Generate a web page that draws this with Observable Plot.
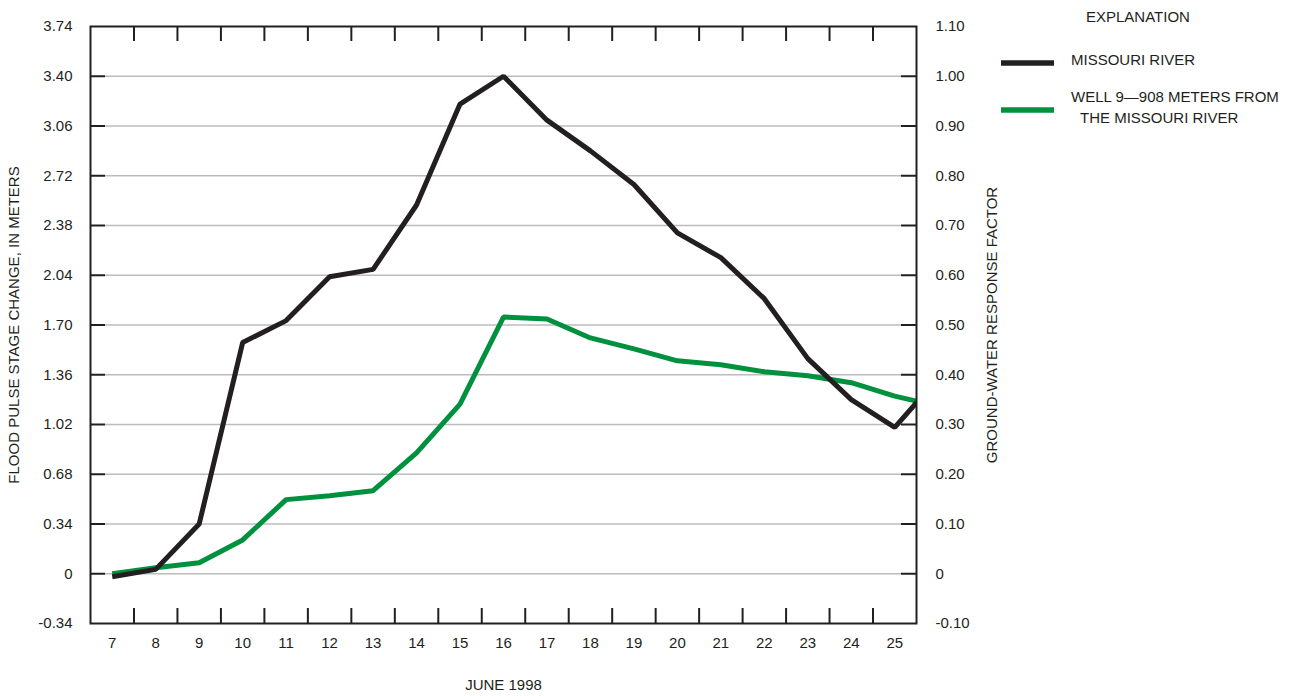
<!DOCTYPE html>
<html>
<head>
<meta charset="utf-8">
<script src="https://cdn.jsdelivr.net/npm/d3@7"></script>
<script src="https://cdn.jsdelivr.net/npm/@observablehq/plot@0.6"></script>
<style>
  body { margin: 0; background: #fff; }
  #wrap { position: relative; width: 1302px; height: 696px; font-family: "Liberation Sans", Arial, sans-serif; }
  #legend { position: absolute; left: 0; top: 0; }
</style>
</head>
<body>
<div id="wrap"></div>
<script>
// ---- data ----
const days = [7, 8, 9, 10, 11, 12, 13, 14, 15, 16, 17, 18, 19, 20, 21, 22, 23, 24, 25, 25.5];
// Missouri River flood pulse stage change, meters
const missouri = [-0.02, 0.03, 0.34, 1.58, 1.73, 2.03, 2.08, 2.52, 3.21, 3.40, 3.10, 2.89, 2.66, 2.33, 2.16, 1.88, 1.47, 1.19, 1.00, 1.17];
// Well 9 ground-water response factor
const well9 = [0.000, 0.012, 0.022, 0.068, 0.149, 0.157, 0.167, 0.243, 0.341, 0.516, 0.512, 0.474, 0.452, 0.428, 0.420, 0.406, 0.398, 0.384, 0.357, 0.347];
// response factor 1.00 corresponds to 3.40 m on the shared vertical scale
const stagePerFactor = 3.40;

const yTicks = [-0.34, 0, 0.34, 0.68, 1.02, 1.36, 1.70, 2.04, 2.38, 2.72, 3.06, 3.40, 3.74];
const leftLabels = ["-0.34", "0", "0.34", "0.68", "1.02", "1.36", "1.70", "2.04", "2.38", "2.72", "3.06", "3.40", "3.74"];
const rightLabels = ["-0.10", "0", "0.10", "0.20", "0.30", "0.40", "0.50", "0.60", "0.70", "0.80", "0.90", "1.00", "1.10"];
const gridTicks = [0, 0.34, 0.68, 1.02, 1.36, 1.70, 2.04, 2.38, 2.72, 3.06, 3.40];
const xLabels = [7, 8, 9, 10, 11, 12, 13, 14, 15, 16, 17, 18, 19, 20, 21, 22, 23, 24, 25];
const xBounds = [7.5, 8.5, 9.5, 10.5, 11.5, 12.5, 13.5, 14.5, 15.5, 16.5, 17.5, 18.5, 19.5, 20.5, 21.5, 22.5, 23.5, 24.5];

const riverRows = days.map((d, i) => ({day: d, value: missouri[i]}));
const wellRows = days.map((d, i) => ({day: d, value: well9[i] * stagePerFactor}));

const ink = "#231f20";
const green = "#00913f";
const plotW = 1302 - 90 - 386;
const plotH = 696 - 26 - 73;
const tick = 15;

const chart = Plot.plot({
  width: 1302,
  height: 696,
  marginLeft: 90,
  marginRight: 386,
  marginTop: 26,
  marginBottom: 73,
  x: {domain: [6.5, 25.5]},
  y: {domain: [-0.34, 3.74]},
  style: {fontFamily: "Liberation Sans, Arial, sans-serif", fontSize: "15px", color: ink, background: "white", overflow: "visible"},
  marks: [
    Plot.ruleY(gridTicks, {insetLeft: tick, insetRight: tick, stroke: "#bcbcbc", strokeWidth: 1.3}),
    Plot.ruleY(gridTicks, {insetRight: plotW - tick, stroke: ink, strokeWidth: 2}),
    Plot.ruleY(gridTicks, {insetLeft: plotW - tick, stroke: ink, strokeWidth: 2}),
    Plot.ruleX(xBounds, {insetBottom: plotH - tick, stroke: ink, strokeWidth: 2}),
    Plot.ruleX(xBounds, {insetTop: plotH - tick, stroke: ink, strokeWidth: 2}),
    Plot.line(wellRows, {x: "day", y: "value", stroke: green, strokeWidth: 5, strokeLinecap: "butt", strokeLinejoin: "miter", clip: true}),
    Plot.line(riverRows, {x: "day", y: "value", stroke: ink, strokeWidth: 5, strokeLinecap: "butt", strokeLinejoin: "miter", clip: true}),
    Plot.frame({stroke: ink, strokeWidth: 2}),
    Plot.axisY(yTicks, {anchor: "left", tickSize: 0, tickPadding: 18, tickFormat: d => leftLabels[yTicks.indexOf(d)], label: null}),
    Plot.axisY(yTicks, {anchor: "right", tickSize: 0, tickPadding: 19, tickFormat: d => rightLabels[yTicks.indexOf(d)], label: null}),
    Plot.axisX(xLabels, {anchor: "bottom", tickSize: 0, tickPadding: 14, tickFormat: d => String(d), label: null}),
    Plot.text(["FLOOD PULSE STAGE CHANGE, IN METERS"], {text: d => d, frameAnchor: "left", dx: -76, rotate: -90, textAnchor: "middle", lineAnchor: "middle", fill: ink}),
    Plot.text(["GROUND-WATER RESPONSE FACTOR"], {text: d => d, frameAnchor: "right", dx: 76, rotate: -90, textAnchor: "middle", lineAnchor: "middle", fill: ink}),
    Plot.text(["JUNE 1998"], {text: d => d, frameAnchor: "bottom", dy: 62, textAnchor: "middle", lineAnchor: "middle", fill: ink})
  ]
});

const wrap = document.getElementById("wrap");
wrap.appendChild(chart);

// ---- legend ("EXPLANATION") ----
const ns = "http://www.w3.org/2000/svg";
const lg = document.createElementNS(ns, "svg");
lg.setAttribute("id", "legend");
lg.setAttribute("width", 1302);
lg.setAttribute("height", 140);
lg.style.fontFamily = "Liberation Sans, Arial, sans-serif";
lg.style.fontSize = "15px";
function addText(x, y, s) {
  const t = document.createElementNS(ns, "text");
  t.setAttribute("x", x); t.setAttribute("y", y); t.setAttribute("fill", ink);
  t.textContent = s; lg.appendChild(t);
}
function addSwatch(y, color) {
  const l = document.createElementNS(ns, "line");
  l.setAttribute("x1", 1001); l.setAttribute("x2", 1054);
  l.setAttribute("y1", y); l.setAttribute("y2", y);
  l.setAttribute("stroke", color); l.setAttribute("stroke-width", 5.5);
  lg.appendChild(l);
}
addText(1086, 22, "EXPLANATION");
addSwatch(63, ink);
addText(1071, 65, "MISSOURI RIVER");
addSwatch(110, green);
addText(1071, 102, "WELL 9\u2014908 METERS FROM");
addText(1080, 123, "THE MISSOURI RIVER");
wrap.appendChild(lg);
</script>
</body>
</html>
